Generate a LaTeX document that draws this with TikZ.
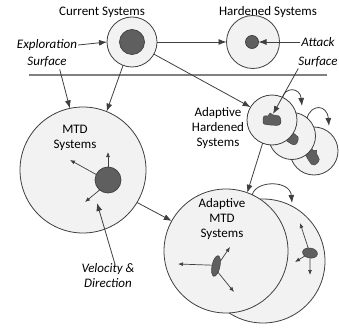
\documentclass[tikz,border=0pt]{standalone}
\usepackage{fontspec}
\setmainfont{Carlito}
\usetikzlibrary{arrows.meta,shapes.geometric}
\definecolor{ringfill}{HTML}{F2F2F2}
\definecolor{ringline}{HTML}{3F3F3F}
\definecolor{corefill}{HTML}{5F5F5F}
\definecolor{rulecol}{HTML}{808080}
\tikzset{
  ring/.style={circle,draw=ringline,fill=ringfill,line width=0.8pt,inner sep=0pt,outer sep=0pt},
  core/.style={circle,draw=ringline,fill=corefill,line width=0.7pt,inner sep=0pt,outer sep=0pt},
  lens/.style={ellipse,draw=ringline,fill=corefill,line width=0.5pt,inner sep=0pt,outer sep=0pt},
  lbl/.style={font=\fontsize{13}{15}\selectfont,text=black,align=center,inner sep=0pt},
  ilbl/.style={lbl,font=\fontsize{13}{15}\selectfont\itshape},
  link/.style={draw=ringline,line width=0.8pt,-{Latex[length=8pt,width=6pt]}},
  move/.style={draw=ringline,line width=0.7pt,-{Latex[length=5pt,width=4pt]}},
  blobfill/.style={fill=corefill,draw=ringline,line width=0.4pt},
}
% irregular hardened core, drawn around the origin
\newcommand{\hardblob}{%
  \path[blobfill] plot[smooth cycle,tension=0.6] coordinates
    {(-9,1) (-8,-4) (-4,-4) (-2,-7) (1,-5) (7,-4) (9,1) (7,5) (-2,5) (-8,4)};}
\begin{document}
\begin{tikzpicture}[x=1pt,y=-1pt]
\useasboundingbox (0,0) rectangle (339,331);

% ---- top row: current and hardened systems
\node[ring,minimum size=50pt] (cur) at (132,42) {};
\node[core,minimum size=25pt] (curcore) at (132,42) {};
\node[ring,minimum size=53pt] (hard) at (253,42) {};
\node[core,minimum size=13pt] (hardcore) at (252,42) {};
\node[lbl] (curlbl) at (102,12) {Current Systems};
\node[lbl] (hardlbl) at (268,12) {Hardened Systems};
\node[ilbl] (expl1) at (47,45) {Exploration};
\node[ilbl] (expl2) at (47,62) {Surface};
\node[ilbl] (att1) at (318,42) {Attack};
\node[ilbl] (att2) at (318,62) {Surface};

% ---- separator
\coordinate (sepL) at (29,75);
\coordinate (sepR) at (327,75);
\draw[rulecol,line width=1.6pt] (sepL) -- (sepR);

% ---- MTD systems
\node[ring,minimum size=126pt] (mtd) at (83,170) {};
\node[core,minimum size=26pt] (mtdcore) at (108,180) {};
\node[lbl] (mtdlbl) at (75,137.5) {MTD\\Systems};

% ---- adaptive hardened systems, back to front
\node[ring,minimum size=48pt] (ah3) at (314,151) {};
\begin{scope}[shift={(312,156)},rotate=-55]\hardblob\end{scope}
\node[ring,minimum size=47pt] (ah2) at (292,136) {};
\begin{scope}[shift={(290,137)},rotate=-30]\hardblob\end{scope}
\node[ring,minimum size=50pt] (ah1) at (272,120) {};
\begin{scope}[shift={(272,120)}]\hardblob\end{scope}
\coordinate (blob1top) at (273,114);
\node[lbl] (ahlbl) at (218,128) {Adaptive\\Hardened\\Systems};

% ---- adaptive MTD systems
\node[ring,minimum size=124pt] (amtdback) at (263,261) {};
\node[ring,minimum size=124pt] (amtd) at (226,251) {};
\node[lbl] (amtdlbl) at (222,219) {Adaptive\\MTD\\Systems};
\node[lens,minimum width=8pt,minimum height=21pt,rotate=-12] (amtdcore) at (216,266) {};
\node[lens,minimum width=15pt,minimum height=10pt,rotate=-10] (backcore) at (310,253) {};

\node[ilbl] (vel) at (108,275.5) {Velocity \&\\Direction};

% ---- free ends of the movement arrows
\coordinate (mtdup) at (108,152);
\coordinate (mtdleft) at (70,160);
\coordinate (mtddown) at (85,202);
\coordinate (velend) at (97,203);
\coordinate (ah2in) at (302,106);
\coordinate (ah3in) at (329,126);
\coordinate (backin) at (292,203);
\coordinate (amleft) at (178,264);
\coordinate (amup) at (230,247);
\coordinate (amdown) at (234,292);
\coordinate (bkup) at (300,223);
\coordinate (bkleft) at (295,262);
\coordinate (bkdown) at (310,275);

% ---- connectors
\draw[link] ([xshift=1pt]expl1.east) -- (cur.west);
\draw[link] (cur.east) -- (hard.west);
\draw[link] ([xshift=-1pt]att1.west) -- (hardcore.east);
\draw[link] (cur.-29) -- (ah1.149);
\draw[link] ([xshift=-7pt,yshift=-2pt]expl2.south east) -- (mtd.102);
\draw[link] (cur.249) -- (mtd.68);
\draw[link] ([yshift=-1pt]att2.south west) -- (blob1top);
\draw[link] (ah1.248) -- (amtd.70);
\draw[link] (mtd.-31) -- (amtd.151);
\draw[link] ([xshift=7pt,yshift=-1pt]vel.north) -- (velend);

\draw[link] (ah1.65) .. controls (285,87) and (300,87) .. (ah2in);
\draw[link] (ah2.50) .. controls (311,104) and (327,104) .. (ah3in);
\draw[link] (amtd.65) .. controls (256,180) and (290,180) .. (backin);

\draw[move] (mtdcore.90) -- (mtdup);
\draw[move] (mtdcore.155) -- (mtdleft);
\draw[move] (mtdcore.230) -- (mtddown);

\draw[move] (amtdcore.180) -- (amleft);
\draw[move] (amtdcore.60) -- (amup);
\draw[move] (amtdcore.-60) -- (amdown);

\draw[move] (backcore.120) -- (bkup);
\draw[move] (backcore.220) -- (bkleft);
\draw[move] (backcore.-80) -- (bkdown);
\end{tikzpicture}
\end{document}
